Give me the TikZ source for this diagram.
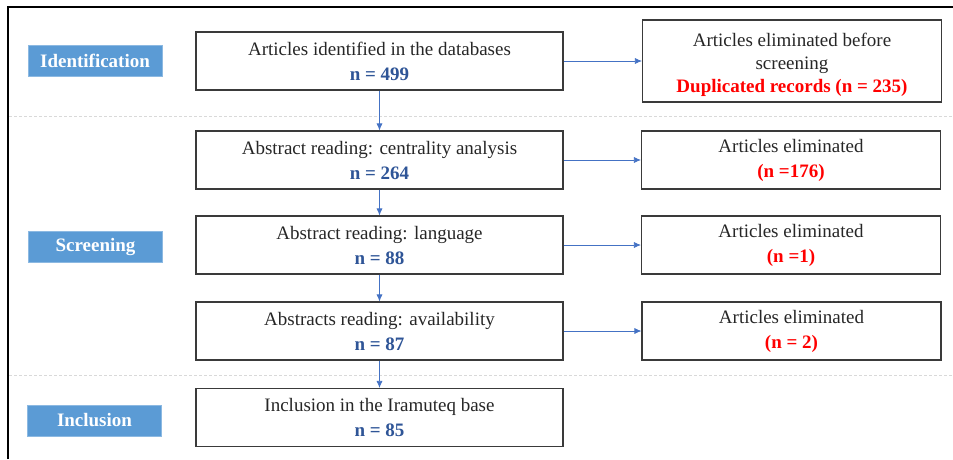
\documentclass[tikz,border=0pt]{standalone}
\usepackage{fontspec}
\setmainfont{Liberation Serif}
\usetikzlibrary{arrows.meta,positioning}
\definecolor{stageblue}{HTML}{5B9BD5}
\definecolor{nblue}{HTML}{2F5597}
\definecolor{arrowblue}{HTML}{4472C4}
\definecolor{boxline}{HTML}{3A3A3A}
\definecolor{sepgray}{HTML}{D9D9D9}

\begin{document}
\begin{tikzpicture}[
x=1pt, y=-1pt,
stage/.style={fill=stageblue, draw=stageblue!70!white, text=white, font=\fontsize{19}{23}\selectfont\bfseries, minimum width=134pt, minimum height=31pt, inner sep=0pt},
flowbox/.style={draw=boxline, line width=1.1pt, align=center, text=black!85, font=\fontsize{19}{25}\selectfont, minimum width=367pt, minimum height=58pt, inner sep=0pt},
elimbox/.style={flowbox, minimum width=299pt},
flow/.style={draw=arrowblue, line width=0.7pt, -{Latex[length=7pt,width=6pt]}},
sep/.style={draw=sepgray, line width=0.6pt, dash pattern=on 3pt off 2pt},
]
	\useasboundingbox (0,0) rectangle (953,459);
	% frame
	\draw[line width=1.2pt] (8,459) -- (8,7) -- (953,7);
	\path[sep] (9,116) -- (953,116);
	\path[sep] (9,375) -- (953,375);

	% stage labels
	\node[stage] (ident) at (95,60.5) {Identification};
	\node[stage] (screen) at (95.5,246.5) {Screening};
	\node[stage] (incl) at (94.5,420.5) {Inclusion};

	% main column
	\node[flowbox] (found) at (379.5,61) {Articles identified in the databases\\ \textbf{\color{nblue}n = 499}};
	\node[flowbox] (central) at (379.5,160) {Abstract reading: centrality analysis\\ \textbf{\color{nblue}n = 264}};
	\node[flowbox] (lang) at (379.5,245) {Abstract reading: language\\ \textbf{\color{nblue}n = 88}};
	\node[flowbox] (avail) at (379.5,331) {Abstracts reading: availability\\ \textbf{\color{nblue}n = 87}};
	\node[flowbox] (base) at (379.5,417.5) {Inclusion in the Iramuteq base\\ \textbf{\color{nblue}n = 85}};

	% eliminated column
	\node[elimbox, minimum height=82pt, font=\fontsize{19}{23}\selectfont] (dup) at (792,61) {\rule{0pt}{21pt}Articles eliminated before\\ screening\\ \textbf{\color{red}Duplicated records (n = 235)}};
	\node[elimbox] (elimA) at (791,160) {Articles eliminated\\ \textbf{\color{red}(n =176)}};
	\node[elimbox] (elimB) at (791,245) {Articles eliminated\\ \textbf{\color{red}(n =1)}};
	\node[elimbox] (elimC) at (791.5,331) {Articles eliminated\\ \textbf{\color{red}(n = 2)}};

	% connectors
	\draw[flow] (found) -- (central);
	\draw[flow] (central) -- (lang);
	\draw[flow] (lang) -- (avail);
	\draw[flow] (avail) -- (base);
	\draw[flow] (found) -- (dup);
	\draw[flow] (central) -- (elimA);
	\draw[flow] (lang) -- (elimB);
	\draw[flow] (avail) -- (elimC);
\end{tikzpicture}
\end{document}
